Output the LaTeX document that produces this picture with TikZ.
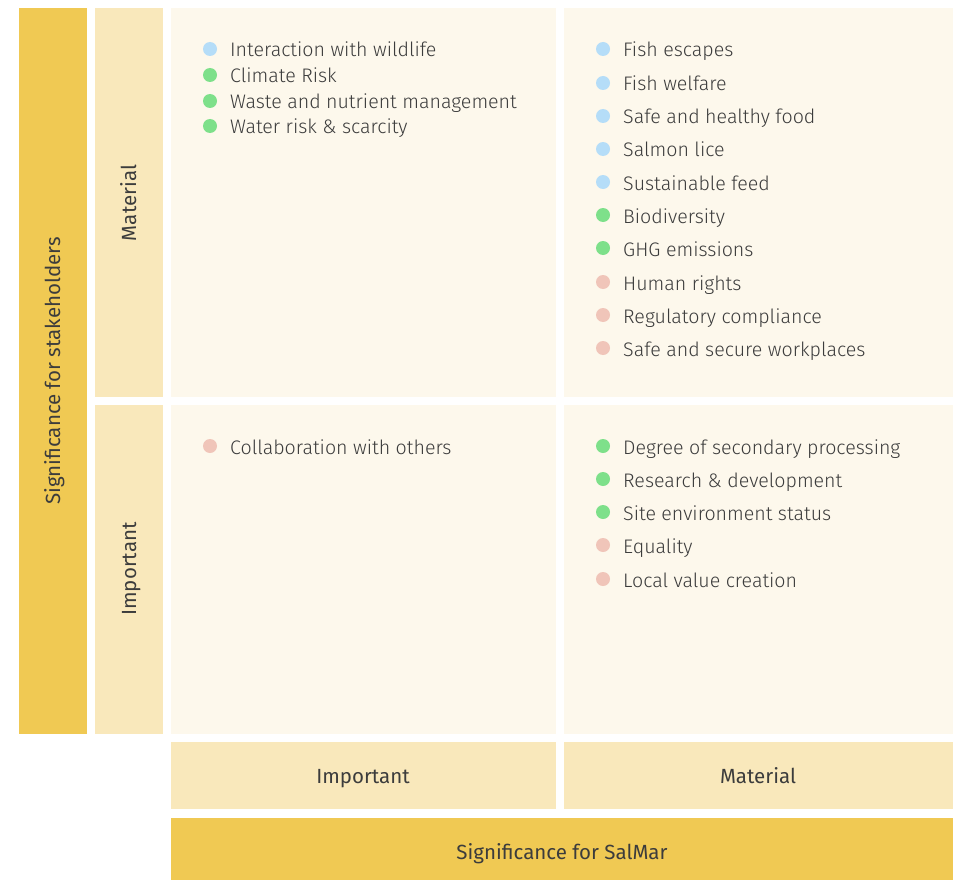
\documentclass[tikz,border=0pt]{standalone}
\usepackage{fontspec}
\setmainfont{Fira Sans}[UprightFont=* Light, BoldFont=*]
\newfontfamily\labfont{Fira Sans}
\definecolor{cYel}{HTML}{F0C953}
\definecolor{cLight}{HTML}{F9E8BB}
\definecolor{cCell}{HTML}{FDF8EC}
\definecolor{cBlue}{HTML}{B5DDF8}
\definecolor{cGreen}{HTML}{7EE08A}
\definecolor{cPink}{HTML}{F0C5B9}
\definecolor{cText}{HTML}{3C3C3C}
\begin{document}
\begin{tikzpicture}[x=1pt,y=-1pt,
  item/.style={anchor=base west, inner sep=0pt, text=cText, font=\fontsize{19.6}{24}\selectfont},
  lab/.style={anchor=base, text=cText, font=\labfont\fontsize{20.5}{24}\selectfont, inner sep=0pt},
  dotb/.style={circle, fill=cBlue, minimum size=14pt, inner sep=0pt},
  dotg/.style={circle, fill=cGreen, minimum size=14pt, inner sep=0pt},
  dotp/.style={circle, fill=cPink, minimum size=14pt, inner sep=0pt}]
\useasboundingbox (0,0) rectangle (955,880);
% panels
\fill[cYel] (19,8) rectangle (87,734);
\fill[cLight] (95,8) rectangle (163,397);
\fill[cLight] (95,405) rectangle (163,734);
\fill[cCell] (171,8) rectangle (556,397);
\fill[cCell] (564,8) rectangle (953,397);
\fill[cCell] (171,405) rectangle (556,734);
\fill[cCell] (564,405) rectangle (953,734);
\fill[cLight] (171,742) rectangle (556,809);
\fill[cLight] (564,742) rectangle (953,809);
\fill[cYel] (171,818) rectangle (953,880);
% axis labels
\node[lab, rotate=90] (sstake) at (60,371) {Significance for stakeholders};
\node[lab, rotate=90] (smat) at (136,203) {Material};
\node[lab, rotate=90] (simp) at (136,569) {Important};
\node[lab] (bimp) at (363,783) {Important};
\node[lab] (bmat) at (758,783) {Material};
\node[lab] (bsal) at (562,859) {Significance for SalMar};
% top-left
\foreach \t/\c/\y [count=\i] in {Interaction with wildlife/dotb/50, Climate Risk/dotg/76, Waste and nutrient management/dotg/102, Water risk \& scarcity/dotg/127}{
  \node[\c] (tld\i) at (210,\y-1) {};
  \node[item] (tl\i) at (230,\y+7) {\t};
}
% top-right
\foreach \t/\c/\y [count=\i] in {Fish escapes/dotb/50, Fish welfare/dotb/84, Safe and healthy food/dotb/117, Salmon lice/dotb/150, Sustainable feed/dotb/183, Biodiversity/dotg/216, GHG emissions/dotg/249, Human rights/dotp/283, Regulatory compliance/dotp/316, Safe and secure workplaces/dotp/349}{
  \node[\c] (trd\i) at (603,\y-1) {};
  \node[item] (tr\i) at (623,\y+7) {\t};
}
% bottom-left
\node[dotp] (bld1) at (210,446) {};
\node[item] (bl1) at (230,454) {Collaboration with others};
% bottom-right
\foreach \t/\c/\y [count=\i] in {Degree of secondary processing/dotg/447, Research \& development/dotg/480, Site environment status/dotg/513, Equality/dotp/546, Local value creation/dotp/580}{
  \node[\c] (brd\i) at (603,\y-1) {};
  \node[item] (br\i) at (623,\y+7) {\t};
}
\end{tikzpicture}
\end{document}
